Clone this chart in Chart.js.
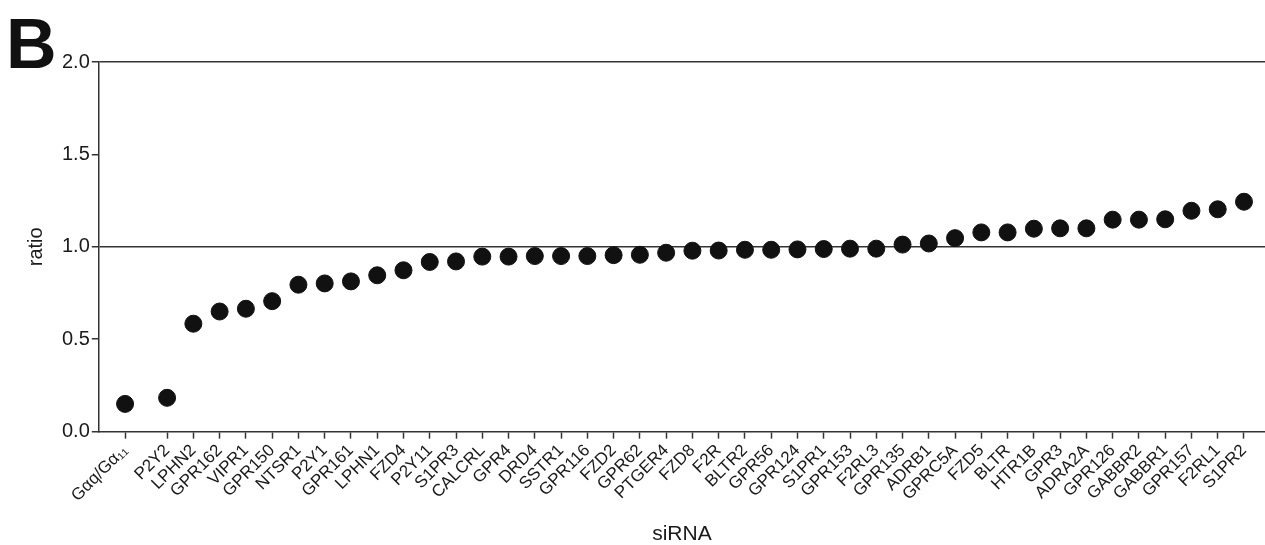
<!DOCTYPE html>
<html>
<head>
<meta charset="utf-8">
<script src="https://cdn.jsdelivr.net/npm/chart.js@4"></script>
<style>
  html, body { margin: 0; padding: 0; background: #fff; }
  #wrap { width: 1265px; height: 545px; position: relative; }
</style>
</head>
<body>
<div id="wrap"><canvas id="ratio-chart"></canvas></div>
<script>
// siRNA names, in plot order
const sirnas = [
  'Gαq/Gα₁₁', 'P2Y2', 'LPHN2', 'GPR162', 'VIPR1', 'GPR150', 'NTSR1', 'P2Y1',
  'GPR161', 'LPHN1', 'FZD4', 'P2Y11', 'S1PR3', 'CALCRL', 'GPR4', 'DRD4',
  'SSTR1', 'GPR116', 'FZD2', 'GPR62', 'PTGER4', 'FZD8', 'F2R', 'BLTR2',
  'GPR56', 'GPR124', 'S1PR1', 'GPR153', 'F2RL3', 'GPR135', 'ADRB1', 'GPRC5A',
  'FZD5', 'BLTR', 'HTR1B', 'GPR3', 'ADRA2A', 'GPR126', 'GABBR2', 'GABBR1',
  'GPR157', 'F2RL1', 'S1PR2'
];

// ratio per siRNA
const ratios = [
  0.15, 0.183, 0.584, 0.65, 0.665, 0.706, 0.795, 0.802,
  0.813, 0.846, 0.873, 0.918, 0.921, 0.947, 0.947, 0.95,
  0.95, 0.95, 0.955, 0.957, 0.968, 0.979, 0.98, 0.984,
  0.984, 0.986, 0.988, 0.99, 0.99, 1.012, 1.018, 1.047,
  1.078, 1.078, 1.098, 1.1, 1.1, 1.147, 1.147, 1.149,
  1.195, 1.203, 1.244
];

const yTicks = [0, 0.5, 1.0, 1.5, 2.0];
const refLines = [1.0, 2.0];

// the control sits a bit apart from the screened receptors
const controlGap = 0.6;
const xPos = sirnas.map((_, i) => (i === 0 ? 0 : i + controlGap));

const FONT = 'Liberation Sans, Arial, sans-serif';
const INK = '#1a1a1a';

const panelLetter = {
  id: 'panelLetter',
  afterDraw(chart) {
    const c = chart.ctx;
    c.save();
    c.fillStyle = '#111';
    c.font = 'bold 70px ' + FONT;
    c.textBaseline = 'alphabetic';
    c.fillText('B', 6, 68);
    c.restore();
  }
};

new Chart(document.getElementById('ratio-chart'), {
  type: 'scatter',
  data: {
    datasets: [{
      data: sirnas.map((_, i) => ({ x: xPos[i], y: ratios[i] })),
      backgroundColor: '#111',
      borderColor: '#111',
      pointRadius: 8.5,
      pointHoverRadius: 8.5
    }]
  },
  options: {
    responsive: true,
    maintainAspectRatio: false,
    animation: false,
    // axis lines run to the right edge like the original figure
    layout: { autoPadding: false, padding: { top: 62, right: 0, left: 20, bottom: -2 } },
    plugins: { legend: { display: false }, tooltip: { enabled: false } },
    scales: {
      x: {
        type: 'linear',
        min: -1,
        max: 43.4,
        afterBuildTicks: axis => { axis.ticks = xPos.map(v => ({ value: v })); },
        afterFit: axis => { axis.paddingRight = 0; },
        ticks: {
          autoSkip: false,
          minRotation: 45,
          maxRotation: 45,
          padding: 2,
          color: INK,
          font: { family: FONT, size: 17 },
          callback: v => sirnas[xPos.indexOf(v)]
        },
        grid: { drawOnChartArea: false, tickLength: 7, tickColor: '#333', tickWidth: 1.5 },
        border: { color: '#333', width: 1.5 },
        title: { display: true, text: 'siRNA', color: INK, font: { family: FONT, size: 21 }, padding: { top: 14, bottom: 0 } }
      },
      y: {
        min: 0,
        max: 2,
        afterBuildTicks: axis => { axis.ticks = yTicks.map(v => ({ value: v })); },
        ticks: {
          color: INK,
          padding: 2,
          font: { family: FONT, size: 20 },
          callback: v => v.toFixed(1)
        },
        grid: {
          tickLength: 7,
          tickColor: '#333',
          tickWidth: 1.5,
          lineWidth: 1.5,
          color: ctx => (refLines.includes(ctx.tick && ctx.tick.value) ? '#333' : 'rgba(0,0,0,0)')
        },
        border: { color: '#333', width: 1.5 },
        title: { display: true, text: 'ratio', color: INK, font: { family: FONT, size: 20 }, padding: { bottom: 12 } }
      }
    }
  },
  plugins: [panelLetter]
});
</script>
</body>
</html>
